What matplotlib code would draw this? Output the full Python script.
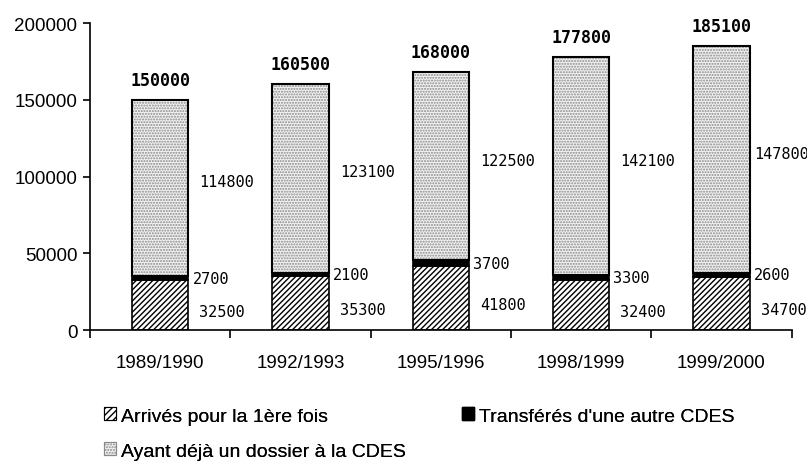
import matplotlib
matplotlib.use("Agg")
import matplotlib.pyplot as plt
from matplotlib.patches import Patch
import numpy as np

categories = ["1989/1990", "1992/1993", "1995/1996", "1998/1999", "1999/2000"]
arrives = [32500, 35300, 41800, 32400, 34700]
transferes = [2700, 2100, 3700, 3300, 2600]
ayant = [114800, 123100, 122500, 142100, 147800]
totals = [150000, 160500, 168000, 177800, 185100]
yticks = [0, 50000, 100000, 150000, 200000]
series_names = ["Arrivés pour la 1ère fois", "Transférés d'une autre CDES",
                "Ayant déjà un dossier à la CDES"]

W, H = 807, 464
fig = plt.figure(figsize=(W / 100, H / 100), dpi=100)
ax = fig.add_axes([0.1115, 0.2866, 0.8695, 0.6616])

x = np.arange(len(categories))
w = 0.4
a = np.array(arrives); t = np.array(transferes); y = np.array(ayant)

hatch_diag = "//////"
hatch_dot = "......"
dot_face, dot_edge = "#f2f2f2", "#8a8a8a"

ax.bar(x, a, w, color="white", edgecolor="black", hatch=hatch_diag, linewidth=1.2)
ax.bar(x, t, w, bottom=a, color="black", edgecolor="black", linewidth=1.2)
ax.bar(x, y, w, bottom=a + t, color=dot_face, edgecolor=dot_edge, hatch=hatch_dot, linewidth=0)
ax.bar(x, y, w, bottom=a + t, fill=False, edgecolor="black", linewidth=1.5)

mono = "DejaVu Sans Mono"
for i in range(len(x)):
    xr = x[i] + w / 2
    ax.text(xr + 0.08, a[i] / 2 - 4000, f"{arrives[i]}", family=mono, fontsize=11,
            ha="left", va="center")
    ax.text(xr + 0.03, a[i] + t[i] / 2, f"{transferes[i]}", family=mono, fontsize=11,
            ha="left", va="center")
    ax.text(xr + 0.08 if i < 4 else xr + 0.03, a[i] + t[i] + y[i] / 2 + 4000,
            f"{ayant[i]}", family=mono, fontsize=11, ha="left", va="center")
    ax.text(x[i], totals[i] + 13000, f"{totals[i]}", family=mono, fontsize=12,
            fontweight="bold", ha="center", va="center")

ax.set_xlim(-0.5, len(categories) - 0.5)
ax.set_ylim(0, 200000)
ax.set_yticks(yticks)
ax.set_yticklabels([str(v) for v in yticks], family="Liberation Sans", fontsize=13.5)
ax.set_xticks(x)
ax.set_xticklabels(categories, family="Liberation Sans", fontsize=13.5)
ax.tick_params(axis="x", which="major", length=0, pad=17)
ax.set_xticks(np.arange(-0.5, len(categories)), minor=True)
ax.tick_params(axis="x", which="minor", length=6, width=1.2, direction="out")
ax.tick_params(axis="y", length=5, width=1.2, direction="out", pad=4)
for s in ["top", "right"]:
    ax.spines[s].set_visible(False)
ax.spines["left"].set_linewidth(1.2)
ax.spines["bottom"].set_linewidth(1.2)

handles = [
    Patch(facecolor="white", edgecolor="black", hatch="/////", linewidth=0.8),
    Patch(facecolor="black", edgecolor="black"),
    Patch(facecolor=dot_face, edgecolor=dot_edge, hatch=hatch_dot, linewidth=0.8),
]
# legend entries: (marker left x px, row centre y px)
leg_pos = [(104, 417), (462, 417), (104, 452)]
for h, lab, (px, py) in zip(handles, series_names, leg_pos):
    lg = fig.legend([h], [lab], loc="center left", bbox_to_anchor=(px / W, 1 - py / H),
                    frameon=False, prop={"family": "Liberation Sans", "size": 14},
                    handlelength=0.6, handleheight=0.6, handletextpad=0.25,
                    borderaxespad=0, borderpad=0)
    fig.add_artist(lg)

fig.savefig("out.png", dpi=100)
